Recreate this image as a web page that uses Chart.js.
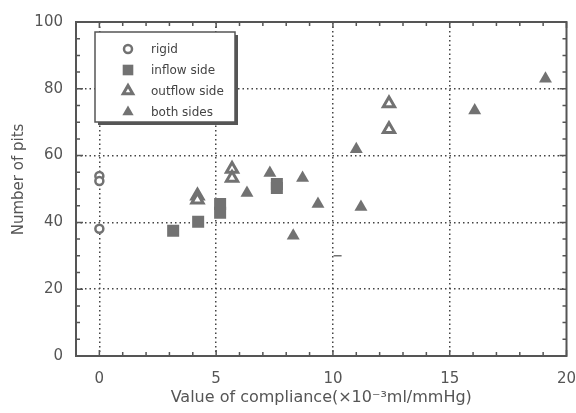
<!DOCTYPE html>
<html lang="en">
<head>
<meta charset="UTF-8">
<title>Number of pits vs compliance</title>
<script src="https://cdn.jsdelivr.net/npm/chart.js"></script>
<style>
  html, body { margin: 0; padding: 0; background: #fff; }
  #wrap { width: 576px; height: 413px; }
</style>
</head>
<body>
<div id="wrap"><canvas id="pitsChart"></canvas></div>
<script>
// values
const seriesLabels = ['rigid', 'inflow side', 'outflow side', 'both sides'];

const rigidX = [0, 0, 0];
const rigidY = [53.9, 52.4, 38.1];

const inflowX = [3.16, 4.23, 5.17, 5.17, 7.6, 7.6];
const inflowY = [37.5, 40.2, 42.9, 45.5, 50.3, 51.5];

const outflowX = [4.2, 4.2, 5.68, 5.68, 12.4, 12.4];
const outflowY = [48, 46.8, 56, 53.3, 75.6, 67.9];

const bothX = [6.32, 7.3, 8.3, 8.7, 9.36, 11.0, 11.2, 16.07, 19.1];
const bothY = [48.8, 54.8, 36, 53.3, 45.5, 61.9, 44.6, 73.5, 83];

// stray dash next to the 10 gridline
const dashX = [10.2];
const dashY = [30];

const xTicks = [0, 5, 10, 15, 20];
const yTicks = [0, 20, 40, 60, 80, 100];

const ink = '#555';
const markGray = '#727272';

function toPoints(xs, ys) {
    return xs.map((x, i) => ({ x: x, y: ys[i] }));
}

// frame with inward ticks, like the original plot
const framePlugin = {
    id: 'frame',
    afterDatasetsDraw(chart) {
        const ctx = chart.ctx;
        const a = chart.chartArea;
        const xs = chart.scales.x;
        const ys = chart.scales.y;
        ctx.save();
        ctx.strokeStyle = ink;
        ctx.lineWidth = 1.5;
        for (let v = -1; v <= 20; v++) {
            const px = xs.getPixelForValue(v);
            const len = v % 5 === 0 ? 6 : 4;
            ctx.beginPath();
            ctx.moveTo(px, a.bottom); ctx.lineTo(px, a.bottom - len);
            ctx.moveTo(px, a.top); ctx.lineTo(px, a.top + len);
            ctx.stroke();
        }
        for (let v = 0; v <= 100; v += 5) {
            const py = ys.getPixelForValue(v);
            const len = v % 20 === 0 ? 7 : 4;
            ctx.beginPath();
            ctx.moveTo(a.left, py); ctx.lineTo(a.left + len, py);
            ctx.moveTo(a.right, py); ctx.lineTo(a.right - len, py);
            ctx.stroke();
        }
        ctx.lineWidth = 2;
        ctx.strokeRect(a.left, a.top, a.right - a.left, a.bottom - a.top);
        ctx.restore();
    }
};

// boxed legend with drop shadow inside the plot
const boxLegendPlugin = {
    id: 'boxLegend',
    afterDraw(chart) {
        const ctx = chart.ctx;
        const a = chart.chartArea;
        const bx = a.left + 19, by = a.top + 10, bw = 140, bh = 90;
        ctx.save();
        ctx.fillStyle = ink;
        ctx.fillRect(bx + 3, by + 3, bw, bh);
        ctx.fillStyle = '#fff';
        ctx.fillRect(bx, by, bw, bh);
        ctx.strokeStyle = ink;
        ctx.lineWidth = 1.5;
        ctx.strokeRect(bx, by, bw, bh);

        ctx.font = '12px "DejaVu Sans"';
        ctx.textBaseline = 'middle';
        for (let i = 0; i < seriesLabels.length; i++) {
            const ds = chart.data.datasets[i];
            const rowY = by + 17 + i * 21;
            ctx.fillStyle = ds.backgroundColor;
            ctx.strokeStyle = ds.borderColor;
            ctx.lineWidth = ds.borderWidth;
            Chart.helpers.drawPoint(ctx, {
                pointStyle: ds.pointStyle,
                radius: ds.legendRadius,
                rotation: 0,
                borderWidth: ds.borderWidth
            }, bx + 33, rowY);
            ctx.fillStyle = '#444';
            ctx.fillText(ds.label, bx + 56, rowY + 1);
        }
        ctx.restore();
    }
};

const ctx = document.getElementById('pitsChart').getContext('2d');
new Chart(ctx, {
    type: 'scatter',
    data: {
        datasets: [
            {
                label: seriesLabels[0],
                data: toPoints(rigidX, rigidY),
                pointStyle: 'circle',
                pointRadius: 4,
                legendRadius: 4,
                borderWidth: 2.5,
                borderColor: markGray,
                backgroundColor: '#fff'
            },
            {
                label: seriesLabels[1],
                data: toPoints(inflowX, inflowY),
                pointStyle: 'rect',
                pointRadius: 8.5,
                legendRadius: 7.5,
                borderWidth: 0,
                borderColor: markGray,
                backgroundColor: markGray
            },
            {
                label: seriesLabels[2],
                data: toPoints(outflowX, outflowY),
                pointStyle: 'triangle',
                pointRadius: 6.5,
                legendRadius: 5.5,
                borderWidth: 3,
                borderColor: markGray,
                backgroundColor: '#fff'
            },
            {
                label: seriesLabels[3],
                data: toPoints(bothX, bothY),
                pointStyle: 'triangle',
                pointRadius: 7.5,
                legendRadius: 6.5,
                borderWidth: 0,
                borderColor: markGray,
                backgroundColor: markGray
            },
            {
                label: '',
                data: toPoints(dashX, dashY),
                pointStyle: 'line',
                pointRadius: 4,
                borderWidth: 1.5,
                borderColor: markGray,
                backgroundColor: markGray
            }
        ]
    },
    options: {
        responsive: true,
        maintainAspectRatio: false,
        animation: false,
        layout: { padding: { top: 20, right: 0, left: 0, bottom: 0 } },
        plugins: {
            legend: { display: false },
            tooltip: { enabled: false }
        },
        scales: {
            x: {
                type: 'linear',
                min: -1,
                max: 20,
                afterFit: s => {
                    s.height = 57;
                    s.paddingRight = 8;
                    s.paddingLeft = 0;
                },
                ticks: {
                    stepSize: 1,
                    autoSkip: false,
                    maxRotation: 0,
                    padding: 14,
                    color: ink,
                    font: { family: 'DejaVu Sans', size: 15 },
                    callback: v => xTicks.includes(v) ? v : ''
                },
                grid: {
                    drawTicks: false,
                    lineWidth: 1.5,
                    color: c => (c.tick && c.tick.value % 5 === 0 && c.tick.value >= 0 && c.tick.value < 20) ? '#444' : 'rgba(0,0,0,0)'
                },
                border: { display: false, dash: [1.5, 3] },
                title: {
                    display: true,
                    text: 'Value of compliance(×10⁻³ml/mmHg)',
                    color: ink,
                    font: { family: 'DejaVu Sans', size: 16 },
                    padding: { top: 0, bottom: 6 }
                }
            },
            y: {
                min: 0,
                max: 100,
                afterFit: s => { s.width = 76; },
                ticks: {
                    stepSize: 5,
                    autoSkip: false,
                    padding: 13,
                    color: ink,
                    font: { family: 'DejaVu Sans', size: 15 },
                    callback: v => yTicks.includes(v) ? v : ''
                },
                grid: {
                    drawTicks: false,
                    lineWidth: 1.5,
                    color: c => (c.tick && c.tick.value % 20 === 0 && c.tick.value > 0 && c.tick.value < 100) ? '#444' : 'rgba(0,0,0,0)'
                },
                border: { display: false, dash: [1.5, 3] },
                title: {
                    display: true,
                    // leading spaces nudge the rotated title a little upward, as in the original
                    text: '    Number of pits',
                    color: ink,
                    font: { family: 'DejaVu Sans', size: 15 },
                    padding: { top: 10, bottom: 0 }
                }
            }
        }
    },
    plugins: [framePlugin, boxLegendPlugin]
});
</script>
</body>
</html>
